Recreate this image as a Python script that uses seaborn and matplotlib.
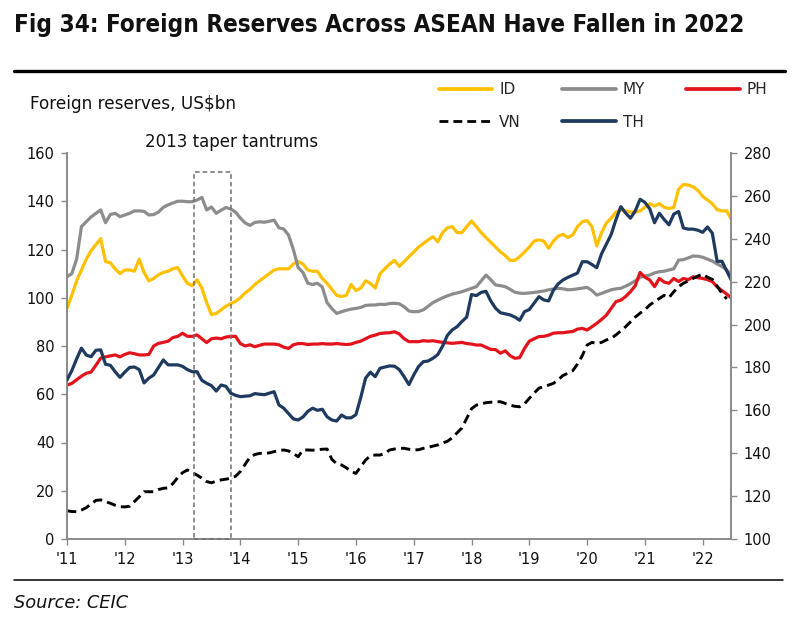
import numpy as np
import pandas as pd
import matplotlib
matplotlib.use("Agg")
import matplotlib.pyplot as plt
import seaborn as sns
from matplotlib.lines import Line2D
from matplotlib.patches import Rectangle

# ---------------- data (monthly, Jan 2011 - Jul 2022, US$bn) ----------------
start_year = 2011
id_res = [95.7, 101, 107, 111.5, 116, 119.5, 122, 124.5, 115, 114.5, 112, 110,
          111.5, 111.5, 111, 116, 110.5, 107, 108, 109.5, 110.5, 111, 112, 112.5,
          109, 106, 105, 107.4, 104, 98, 93, 93.5, 95, 96.5, 97.5, 98.5,
          100, 102, 103.5, 105.5, 107, 108.5, 110, 111.5, 112, 112, 112, 114,
          115, 114, 111.5, 111, 111, 108, 106, 103.5, 101, 100.5, 101, 105.5,
          103, 104, 107, 106, 104, 110, 112, 114, 115.5, 113, 115, 117,
          119, 121, 122.5, 124, 125.3, 123.2, 127, 129, 129.5, 127, 127, 129.5,
          131.8, 129.5, 127, 125, 123, 121, 119, 117.5, 115.5, 115.5, 117, 119,
          121, 123.5, 124, 123.5, 120.5, 123.5, 125.5, 126.3, 125, 126, 129.5, 131.5,
          132, 129.5, 121.5, 127, 131, 133, 135.5, 136.4, 136, 135.5, 135.5, 136,
          137.5, 139, 138, 139, 137.5, 137, 137.5, 145, 147, 146.7, 146, 144.5,
          142, 140.5, 139, 136.5, 136, 136, 132.2]
my_res = [108.7, 110, 116, 129.5, 131.5, 133.5, 135, 136.4, 131.1, 134.5, 135, 133.6,
          134.3, 135, 136, 136, 135.8, 134.3, 134.5, 135.5, 137.5, 138.5, 139.3, 140,
          140, 139.8, 139.8, 140.5, 141.6, 136.4, 137.6, 135, 136.3, 137.4, 136.8, 135.5,
          133, 131, 130, 131.2, 131.5, 131.3, 131.7, 132.2, 129, 128.5, 126, 120,
          112.5, 110.5, 106, 105.5, 106, 104.5, 98, 95.5, 93.5, 94.2, 94.8, 95.3,
          95.6, 96, 96.8, 97, 97, 97.3, 97.2, 97.6, 97.7, 97.5, 96.3, 94.5,
          94.2, 94.3, 95, 96.5, 98, 99, 100, 100.8, 101.5, 102, 102.5, 103.2,
          103.9, 104.6, 107, 109.4, 107.5, 105.3, 105, 104.6, 103.5, 102.3, 101.9, 101.8,
          102, 102.2, 102.5, 102.8, 103.3, 103.6, 103.9, 103.7, 103.3, 103.4, 103.7, 104,
          104.3, 103, 101.1, 101.8, 102.6, 103.3, 103.7, 103.9, 104.8, 105.8, 107, 108.5,
          109, 109.4, 110.3, 110.8, 111, 111.5, 112, 115.6, 115.8, 116.5, 117.3, 117.2,
          116.8, 116, 115.2, 114, 113, 111.5, 109.5]
ph_res = [63.8, 64.5, 66, 67.5, 68.7, 69.2, 72, 75, 75.5, 75.9, 76.3, 75.5,
          76.5, 77.2, 76.8, 76.3, 76.3, 76.5, 80, 81.1, 81.5, 82, 83.5, 84,
          85.3, 84, 84, 84.6, 83, 81.4, 83, 83.3, 83, 83.7, 84, 84,
          81, 80, 80.5, 79.7, 80.3, 80.8, 80.8, 80.8, 80.5, 79.5, 79, 80.5,
          81, 81, 80.6, 80.8, 80.8, 81, 80.8, 80.8, 81, 80.8, 80.6, 80.8,
          81.5, 82, 83, 84, 84.5, 85.2, 85.4, 85.5, 85.9, 85, 83, 81.8,
          81.8, 81.8, 82.2, 82, 82.2, 81.8, 81.5, 81.3, 81.1, 81.3, 81.5, 81,
          80.8, 80.4, 80.4, 79.5, 78.6, 78.5, 77, 78, 76, 74.9, 75.2, 79,
          82, 83, 83.9, 84, 84.5, 85.3, 85.5, 85.5, 85.8, 86, 87, 87.3,
          86.6, 88, 89.4, 91, 92.8, 95.6, 98.4, 99, 100.5, 102.5, 105, 110.5,
          108.5, 107.4, 104.6, 108, 106.5, 106, 108, 106.7, 108, 107.5, 108.7, 108.3,
          108, 107.5, 106.7, 104.5, 103, 101.5, 99.8]
vn_res = [11.7, 11.4, 11.3, 12, 13, 14.5, 16, 16.2, 15.5, 14.8, 14, 13.4,
          13.3, 13.6, 15.5, 17.5, 19.6, 19.6, 19.6, 20.5, 21, 21.2, 23, 25.5,
          27.5, 28.6, 27.5, 26.5, 25.2, 23.8, 23.3, 24, 24.5, 24.8, 25.2, 26,
          28, 31, 34, 35, 35.5, 35.5, 35.7, 36.2, 36.7, 36.9, 36.5, 35.5,
          34.1, 36.9, 36.9, 36.8, 37, 37.2, 37.3, 33, 31.2, 30.7, 29.5, 28,
          27.2, 30, 32.7, 34.5, 34.8, 34.8, 35.5, 36.9, 37.3, 37.6, 37.6, 37.2,
          36.9, 37, 37.6, 38, 38.5, 39, 39.8, 40.5, 42, 44, 46, 50,
          54, 55.5, 56, 56.5, 56.7, 56.9, 56.9, 56.2, 55.5, 55, 54.8, 56,
          58.3, 60.5, 62.5, 63.2, 63.8, 64.5, 66, 67.8, 68.7, 69.7, 72.5, 76,
          80.4, 81.5, 81.1, 81.5, 82.5, 83.2, 84.6, 86.3, 88, 90, 92, 93.6,
          95, 97, 98.4, 99.7, 101, 100, 102.5, 104.6, 106, 107, 108, 109,
          109.8, 108.5, 107.6, 104.8, 101.8, 99.5, np.nan]
th_res = [174.2, 178.5, 184, 189, 185.8, 185, 188, 188.2, 181.5, 181, 178, 175.4,
          177.8, 180, 180.2, 179, 172.8, 175, 176.5, 180, 183.5, 181.2, 181.2, 181.2,
          180.5, 179, 178, 178, 174, 172.6, 171.5, 169, 171.8, 171.2, 168, 167,
          166.4, 166.6, 166.8, 167.8, 167.5, 167.3, 168, 168.7, 162.5, 161, 158.5, 156,
          155.5, 156.9, 159.5, 161, 160, 160.5, 157, 155.5, 155, 157.8, 156.5, 156.5,
          158, 166, 175, 177.8, 175.7, 179.6, 180.2, 180.7, 180.6, 179, 175.7, 172,
          176.5, 180.4, 182.7, 183, 184.3, 186, 190, 195, 197.5, 199, 201.4, 203.5,
          214, 213.5, 215, 215.5, 211, 207.6, 205.5, 205, 204.5, 203.5, 202, 206,
          207, 210, 213, 211.5, 211, 216, 219, 220.8, 222, 223, 224, 229.3,
          229.3, 228, 226.5, 233, 237.5, 242, 249, 255, 252, 249.6, 253, 258.4,
          257, 254, 247.5, 251.9, 249, 246.5, 251.5, 252.7, 245, 244.5, 244.5, 244,
          243, 245.5, 242.6, 229.5, 229.5, 225, 220.5]

series_colors = {"ID": "#FFC000", "MY": "#8C8C8C", "PH": "#E3131B",
                 "VN": "#000000", "TH": "#1F3A5F"}
year_ticks = list(range(2011, 2023))
year_labels = ["'11", "'12", "'13", "'14", "'15", "'16", "'17", "'18", "'19", "'20", "'21", "'22"]
left_ticks = [0, 20, 40, 60, 80, 100, 120, 140, 160]
right_ticks = [100, 120, 140, 160, 180, 200, 220, 240, 260, 280]
taper_start, taper_end, taper_top = 2013.2, 2013.84, 152

n = len(id_res)
t = start_year + np.arange(n) / 12.0
df = pd.DataFrame({"t": t, "ID": id_res, "MY": my_res, "PH": ph_res,
                   "VN": vn_res, "TH": th_res})

# ---------------- figure ----------------
sns.set_theme(style="white")
plt.rcParams["font.family"] = ["DejaVu Sans"]

fig = plt.figure(figsize=(8.0, 6.18), dpi=100)
ax = fig.add_axes([67 / 800, 1 - 539 / 618, (731 - 67) / 800, (539 - 153) / 618])
ax2 = ax.twinx()

lw = 2.3
for key in ["ID", "MY", "PH"]:
    sns.lineplot(data=df, x="t", y=key, ax=ax, color=series_colors[key],
                 linewidth=lw, legend=False)
sns.lineplot(data=df, x="t", y="VN", ax=ax, color=series_colors["VN"],
             linewidth=lw - 0.2, legend=False)
ax.lines[-1].set_dashes([3.2, 1.8])
sns.lineplot(data=df, x="t", y="TH", ax=ax2, color=series_colors["TH"],
             linewidth=lw, legend=False)

spine_col = "#8a8a8a"
for a in (ax, ax2):
    a.set_xlim(2011, 2022.49)
    a.set_xlabel("")
    a.set_ylabel("")
    for s in a.spines.values():
        s.set_visible(False)
ax.set_ylim(0, 160)
ax2.set_ylim(100, 280)
ax.set_yticks(left_ticks)
ax2.set_yticks(right_ticks)
ax.set_xticks(year_ticks)
ax.set_xticklabels(year_labels)

ax.spines["left"].set_visible(True)
ax.spines["bottom"].set_visible(True)
ax2.spines["right"].set_visible(True)
for s in (ax.spines["left"], ax.spines["bottom"], ax2.spines["right"]):
    s.set_color(spine_col)
    s.set_linewidth(1.4)

ax.tick_params(axis="y", which="major", left=True, direction="out", length=4,
               width=1.0, color=spine_col, labelsize=10.5, pad=5, labelcolor="#111111")
ax.tick_params(axis="x", which="major", bottom=True, direction="out", length=4,
               width=1.0, color=spine_col, labelsize=10.5, pad=5, labelcolor="#111111")
ax2.tick_params(axis="y", which="major", right=True, direction="out", length=4,
                width=1.0, color=spine_col, labelsize=10.5, pad=5, labelcolor="#111111")
ax.grid(False)
ax2.grid(False)

# taper tantrum box
rect = Rectangle((taper_start, 0), taper_end - taper_start, taper_top, fill=False,
                 edgecolor="#6f6f6f", linewidth=1.1, linestyle=(0, (3, 2)),
                 clip_on=False, zorder=5)
ax.add_patch(rect)
ax.text(2013.855, 164.5, "2013 taper tantrums", ha="center",
        va="center", fontsize=12, color="#111111")

# header texts
title = fig.text(14 / 800, 1 - 25 / 618,
                 "Fig 34: Foreign Reserves Across ASEAN Have Fallen in 2022",
                 ha="left", va="center", fontsize=17, fontweight="bold",
                 fontstretch="condensed", color="#111111")
renderer = fig.canvas.get_renderer()
bb = title.get_window_extent(renderer)
title.set_fontsize(17 * 729 / bb.width)

fig.add_artist(Line2D([14 / 800, 785 / 800], [1 - 71 / 618, 1 - 71 / 618],
                      color="black", linewidth=2.4, transform=fig.transFigure))
fig.add_artist(Line2D([14 / 800, 783 / 800], [1 - 580 / 618, 1 - 580 / 618],
                      color="black", linewidth=1.1, transform=fig.transFigure))

fig.text(30 / 800, 1 - 104 / 618, "Foreign reserves, US$bn", ha="left", va="center",
         fontsize=12.2, color="#111111")
fig.text(14 / 800, 1 - 603 / 618, "Source: CEIC", ha="left", va="center",
         fontsize=12.8, style="italic", color="#111111")

# legend (row-major: ID MY PH / VN TH)
def handle(key):
    if key == "VN":
        return Line2D([], [], color=series_colors[key], linewidth=2.0, dashes=[3.2, 1.8])
    return Line2D([], [], color=series_colors[key], linewidth=lw + 0.4)

order = ["ID", "VN", "MY", "TH", "PH"]
leg = fig.legend([handle(k) for k in order], order, ncol=3, frameon=False,
                 loc="upper left", bbox_to_anchor=(439 / 800, 1 - 82 / 618),
                 fontsize=11, handlelength=3.5, handletextpad=0.45,
                 columnspacing=2.7, labelspacing=1.15, borderpad=0.0,
                 borderaxespad=0.0)

fig.savefig("out.png", dpi=100)
